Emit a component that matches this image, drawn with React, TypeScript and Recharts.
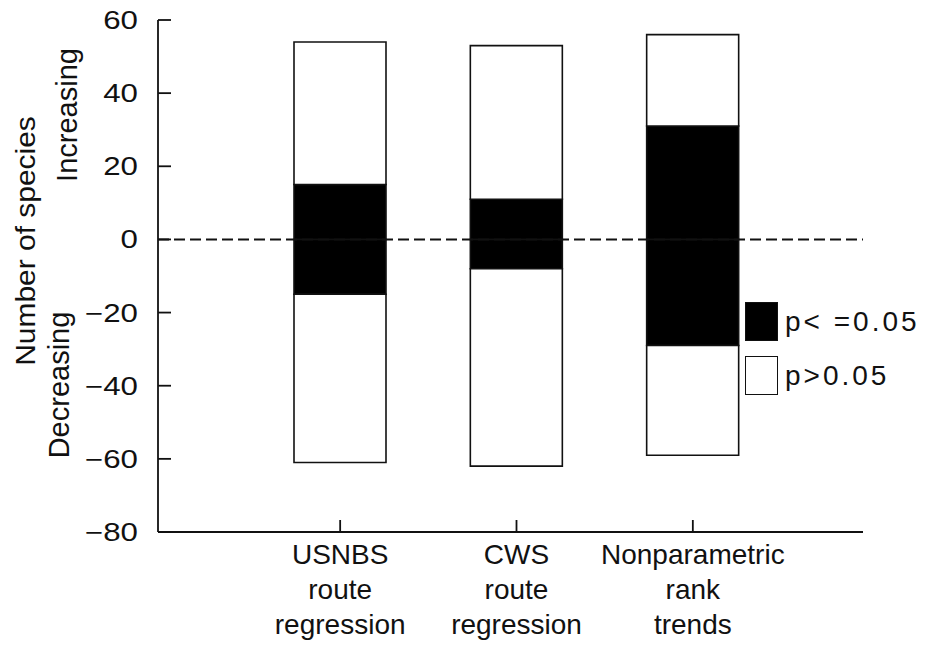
import React from 'react';
import { BarChart, Bar, XAxis, YAxis, ReferenceLine, Legend, Customized } from 'recharts';

const categories = ['USNBS\nroute\nregression', 'CWS\nroute\nregression', 'Nonparametric\nrank\ntrends'];
const significantIncreasing = [15, 11, 31];
const nonsignificantIncreasing = [39, 42, 25];
const significantDecreasing = [-15, -8, -29];
const nonsignificantDecreasing = [-46, -54, -30];
const yTicks = [-80, -60, -40, -20, 0, 20, 40, 60];
const legendLabels = ['p< =0.05', 'p>0.05'];
const legendFills = ['#000000', '#ffffff'];
const yAxisTitle = 'Number of species';
const increasingLabel = 'Increasing';
const decreasingLabel = 'Decreasing';

const FONT = '"Liberation Sans", Arial, Helvetica, sans-serif';
const INK = '#111111';

const data = categories.map((name, i) => ({
  name,
  sigInc: significantIncreasing[i],
  nsInc: nonsignificantIncreasing[i],
  sigDec: significantDecreasing[i],
  nsDec: nonsignificantDecreasing[i],
}));

const YTick = (props: any) => {
  const { x, y, payload } = props;
  const label = String(payload.value).replace('-', '\u2212');
  return (
    <g>
      <line x1={x} x2={x + 13} y1={y} y2={y} stroke={INK} strokeWidth={1.8} />
      <text
        transform={`translate(${x - 20},${y}) scale(1.25,1)`}
        dy="0.36em"
        textAnchor="end"
        fontSize={25}
        fill={INK}
        fontFamily={FONT}
      >
        {label}
      </text>
    </g>
  );
};

const XTick = (props: any) => {
  const { x, y, payload } = props;
  const lines = String(payload.value).split('\n');
  return (
    <g>
      <line x1={x} x2={x} y1={y} y2={y - 12} stroke={INK} strokeWidth={1.8} />
      {lines.map((l, i) => (
        <text key={i} x={x} y={y + 32 + 35 * i} textAnchor="middle" fontSize={28} fill={INK} fontFamily={FONT}>
          {l}
        </text>
      ))}
    </g>
  );
};

const YTitles = () => (
  <g fontFamily={FONT} fill={INK}>
    <text
      transform="translate(17,233) rotate(-90) scale(1.07,1)"
      textAnchor="middle"
      dominantBaseline="central"
      fontSize={28}
    >
      {yAxisTitle}
    </text>
    <text transform="translate(59,107) rotate(-90)" textAnchor="middle" dominantBaseline="central" fontSize={29}>
      {increasingLabel}
    </text>
    <text transform="translate(51,377) rotate(-90)" textAnchor="middle" dominantBaseline="central" fontSize={29}>
      {decreasingLabel}
    </text>
  </g>
);

const LegendContent = () => (
  <div style={{ fontFamily: FONT }}>
    {legendLabels.map((l, i) => (
      <div key={l} style={{ display: 'flex', alignItems: 'center', height: 39, marginBottom: i === 0 ? 15 : 0 }}>
        <div
          style={{
            width: 33,
            height: 39,
            flex: '0 0 auto',
            boxSizing: 'border-box',
            border: `1.6px solid ${INK}`,
            background: legendFills[i],
          }}
        />
        <span
          style={{
            marginLeft: 7,
            fontSize: 28,
            letterSpacing: 3,
            color: INK,
            lineHeight: '39px',
            whiteSpace: 'pre',
          }}
        >
          {l}
        </span>
      </div>
    ))}
  </div>
);

export default function App() {
  return (
    <BarChart
      width={930}
      height={639}
      data={data}
      stackOffset="sign"
      margin={{ top: 12, right: 75, bottom: 15, left: 0 }}
    >
      <XAxis
        dataKey="name"
        type="category"
        interval={0}
        height={100}
        padding={{ left: 94, right: 82 }}
        tickLine={false}
        tickSize={0}
        tickMargin={0}
        axisLine={{ stroke: INK, strokeWidth: 1.8 }}
        tick={<XTick />}
      />
      <YAxis
        width={150}
        domain={[-80, 60]}
        ticks={yTicks}
        type="number"
        allowDataOverflow
        tickLine={false}
        tickSize={0}
        tickMargin={0}
        axisLine={{ stroke: INK, strokeWidth: 1.8 }}
        tick={<YTick />}
      />
      <ReferenceLine y={0} stroke={INK} strokeWidth={2} strokeDasharray="11 5" />
      <Bar dataKey="sigInc" stackId="a" fill="#000000" stroke={INK} strokeWidth={1.6} barSize={92} isAnimationActive={false} />
      <Bar dataKey="nsInc" stackId="a" fill="#ffffff" stroke={INK} strokeWidth={1.6} barSize={92} isAnimationActive={false} />
      <Bar dataKey="sigDec" stackId="a" fill="#000000" stroke={INK} strokeWidth={1.6} barSize={92} isAnimationActive={false} />
      <Bar dataKey="nsDec" stackId="a" fill="#ffffff" stroke={INK} strokeWidth={1.6} barSize={92} isAnimationActive={false} />
      <Legend
        content={<LegendContent />}
        layout="vertical"
        align="center"
        verticalAlign="middle"
        wrapperStyle={{ left: 737, top: 294, width: 210, height: 95 }}
      />
      <Customized component={YTitles} />
    </BarChart>
  );
}
